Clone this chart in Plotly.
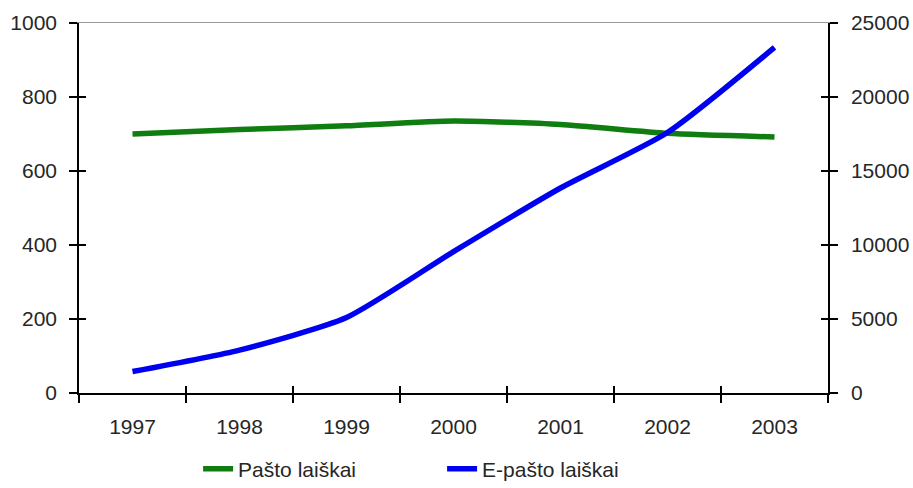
import plotly.graph_objects as go

# Laiškų skaičius pagal metus
years = ["1997", "1998", "1999", "2000", "2001", "2002", "2003"]
pasto_laiskai = [700, 712, 722, 735, 726, 702, 692]
e_pasto_laiskai = [1450, 2900, 5100, 9550, 13850, 17600, 23350]

left_ticks = [0, 200, 400, 600, 800, 1000]
right_ticks = [0, 5000, 10000, 15000, 20000, 25000]

GREEN = "#0f7d0f"
BLUE = "#0000f0"
FONT = dict(family="Liberation Sans, Arial, sans-serif", size=21, color="#262626")

fig = go.Figure()

fig.add_trace(go.Scatter(
    x=years, y=pasto_laiskai, name="Pašto laiškai", mode="lines",
    line=dict(color=GREEN, width=5.5, shape="spline", smoothing=0.6),
    xaxis="x", yaxis="y",
))
fig.add_trace(go.Scatter(
    x=years, y=e_pasto_laiskai, name="E-pašto laiškai", mode="lines",
    line=dict(color=BLUE, width=5.5, shape="spline", smoothing=0.6),
    xaxis="x", yaxis="y2",
))

# invisible helpers so the overlay axes (inner tick halves, top border) get drawn
for xa, ya in [("x2", "y3"), ("x2", "y4"), ("x3", "y3")]:
    fig.add_trace(go.Scatter(
        x=years, y=pasto_laiskai, mode="markers", marker=dict(opacity=0),
        showlegend=False, hoverinfo="skip", xaxis=xa, yaxis=ya,
    ))

cat_range = [-0.5, len(years) - 0.5]

fig.update_layout(
    width=913, height=488,
    margin=dict(l=79, r=85, t=23, b=95, autoexpand=False),
    paper_bgcolor="white", plot_bgcolor="white",
    font=FONT,
    showlegend=True,
    legend=dict(
        orientation="h", x=0.159, xanchor="left", y=-0.15, yanchor="top",
        entrywidth=199, entrywidthmode="pixels",
        font=FONT, bgcolor="rgba(0,0,0,0)",
    ),
    xaxis=dict(
        type="category", categoryorder="array", categoryarray=years,
        range=cat_range, tickson="boundaries",
        showline=True, linecolor="black", linewidth=1.5,
        ticks="outside", ticklen=8, tickwidth=1.5, tickcolor="black",
        showgrid=False, zeroline=False, ticklabelstandoff=14,
    ),
    xaxis2=dict(
        type="category", categoryorder="array", categoryarray=years,
        range=cat_range, tickson="boundaries", overlaying="x",
        anchor="y3", side="bottom",
        showline=False, ticks="inside", ticklen=7, tickwidth=1.5,
        tickcolor="black", showticklabels=False, showgrid=False, zeroline=False,
    ),
    xaxis3=dict(
        type="category", categoryorder="array", categoryarray=years,
        range=cat_range, overlaying="x", anchor="y3", side="top",
        showline=True, linecolor="#9a9a9a", linewidth=1,
        ticks="", showticklabels=False, showgrid=False, zeroline=False,
    ),
    yaxis=dict(
        range=[0, 1000], tickvals=left_ticks,
        showline=True, linecolor="black", linewidth=1.5,
        ticks="outside", ticklen=8, tickwidth=1.5, tickcolor="black",
        showgrid=False, zeroline=False, ticklabelstandoff=8,
    ),
    yaxis2=dict(
        range=[0, 25000], tickvals=right_ticks, tickformat="d",
        overlaying="y", side="right",
        showline=True, linecolor="black", linewidth=1.5,
        ticks="outside", ticklen=8, tickwidth=1.5, tickcolor="black",
        showgrid=False, zeroline=False, ticklabelstandoff=9,
    ),
    yaxis3=dict(
        range=[0, 1000], tickvals=left_ticks, overlaying="y", side="left",
        anchor="x2", showline=False, ticks="inside", ticklen=7, tickwidth=1.5,
        tickcolor="black", showticklabels=False, showgrid=False, zeroline=False,
    ),
    yaxis4=dict(
        range=[0, 25000], tickvals=right_ticks, overlaying="y", side="right",
        anchor="x2", showline=False, ticks="inside", ticklen=7, tickwidth=1.5,
        tickcolor="black", showticklabels=False, showgrid=False, zeroline=False,
    ),
)

fig.write_html("out.html")
